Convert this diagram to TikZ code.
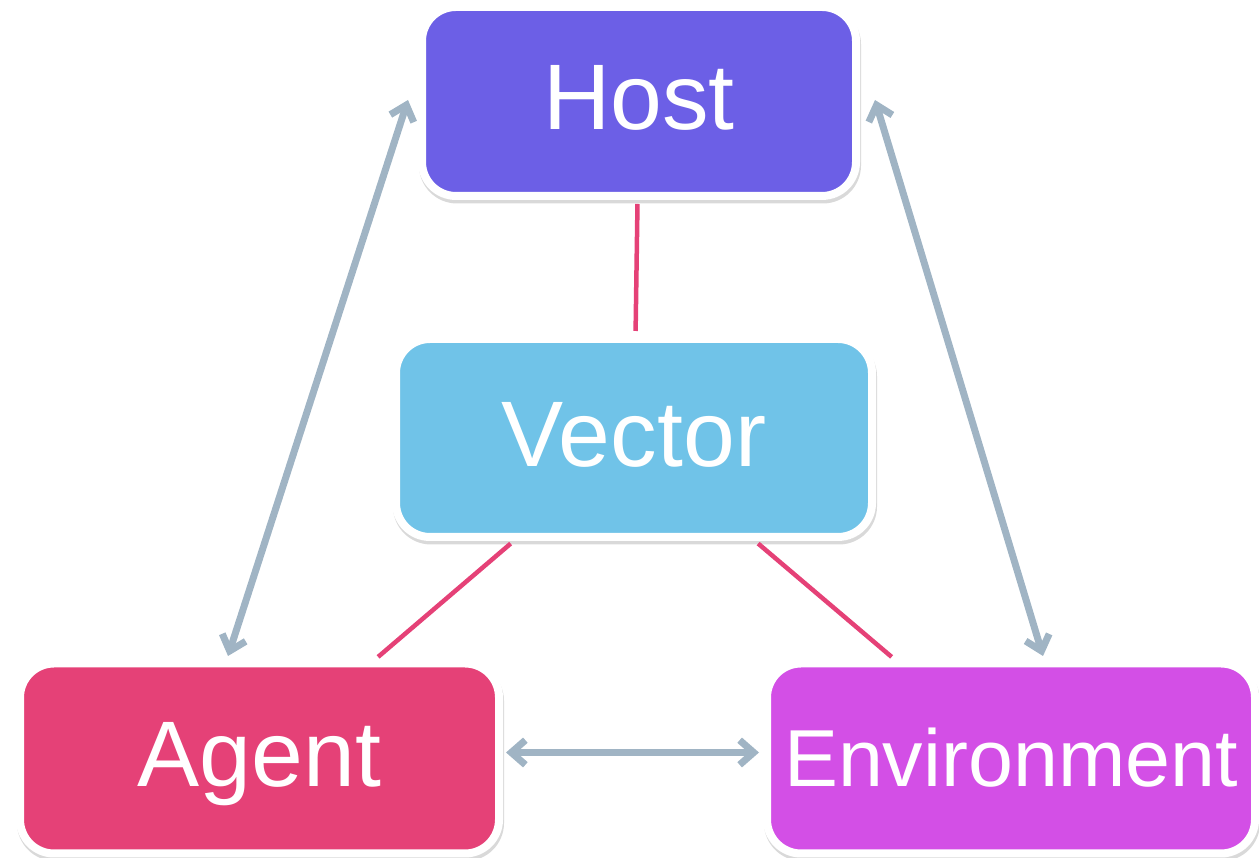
\documentclass[tikz,border=0pt]{standalone}
\usepackage{fontspec}
\setmainfont{Liberation Sans}
\usetikzlibrary{arrows.meta,shadows}
\definecolor{hostc}{HTML}{6C5FE6}
\definecolor{vectorc}{HTML}{70C3E8}
\definecolor{agentc}{HTML}{E54177}
\definecolor{envc}{HTML}{D34FE6}
\definecolor{arrowc}{HTML}{A0B4C4}
\begin{document}
\begin{tikzpicture}[line cap=round,>={Straight Barb[length=4pt,width=7pt]}]
	\tikzset{box/.style={rectangle,rounded corners=.34cm,draw=white,line width=.08cm,
			text=white,font=\fontsize{26.5}{32}\selectfont,text height=19pt,text depth=3pt,
			general shadow={draw=black,fill=black,line width=.08cm,opacity=.15,shadow xshift=.01cm,shadow yshift=-.035cm}},
		link/.style={draw=agentc,line width=.045cm,line cap=butt,shorten <=.04cm,shorten >=.04cm},
		conn/.style={draw=arrowc,line width=.07cm,<->}
	}
	\useasboundingbox (0,0) rectangle (12.59,8.58);
	\node[box,fill=hostc,minimum width=4.34cm,minimum height=1.89cm] (host) at (6.39,7.565) {Host};
	\node[box,fill=vectorc,minimum width=4.76cm,minimum height=1.98cm] (vector) at (6.34,4.20) {Vector};
	\node[box,fill=agentc,minimum width=4.79cm,minimum height=1.90cm] (agent) at (2.595,.995) {Agent};
	\node[box,fill=envc,minimum width=4.88cm,minimum height=1.90cm,font=\fontsize{23}{28}\selectfont] (env) at (10.11,.995) {Environment};
	\draw[link] (host)--(vector);
	\draw[link] (vector)--(agent);
	\draw[link] (vector)--(env);
	\draw[conn] ([xshift=-.315cm,yshift=.035cm]agent.north)--([xshift=-.10cm,yshift=.015cm]host.west);
	\draw[conn] ([xshift=.15cm,yshift=.015cm]host.east)--([xshift=.32cm,yshift=.035cm]env.north);
	\draw[conn] ([xshift=.03cm,yshift=.06cm]agent.east)--([xshift=-.04cm,yshift=.06cm]env.west);
\end{tikzpicture}
\end{document}
